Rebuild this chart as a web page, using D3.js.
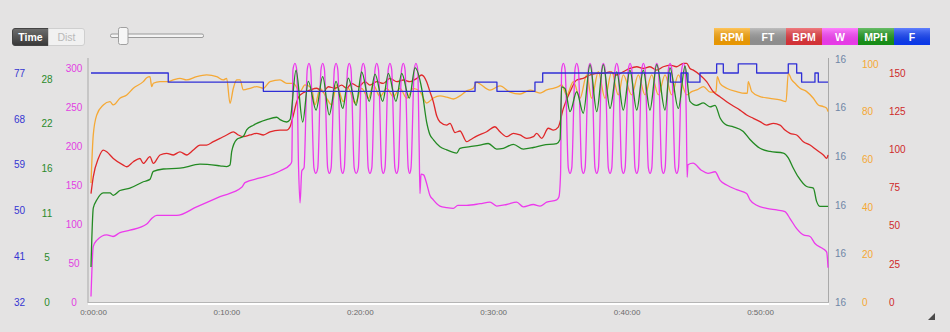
<!DOCTYPE html>
<html>
<head>
<meta charset="utf-8">
<script src="https://cdn.jsdelivr.net/npm/d3@7/dist/d3.min.js"></script>
<style>
 body { margin:0; background:#e4e3e3; }
 svg { display:block; font-family:"Liberation Sans", Arial, sans-serif; }
</style>
</head>
<body>
<div id="chart"></div>
<script>
// ride data, time in minutes
var wattData = [
 [0,7],[0.17,71],[0.43,79],[1.18,86],[1.65,84],[2.17,89],[2.92,92],[4.18,100],[4.55,107],[4.93,111],[6.42,111],[7.92,122],[9.67,135],[11.3,147],[11.54,153],[12.67,159],[14.17,168],[14.92,176],
 [15.05,180],[15.14,298],[15.29,306],[15.42,298],[15.56,172],[15.67,127],[15.8,168],[15.97,172],
 [16.21,298],[16.34,306],[16.47,298],[16.71,172],[16.85,165],[17.0,172],
 [17.24,298],[17.37,306],[17.5,298],[17.74,172],[17.87,165],[18.0,172],
 [18.24,298],[18.37,306],[18.5,298],[18.74,172],[18.87,165],[18.99,172],
 [19.23,298],[19.36,306],[19.49,298],[19.73,172],[19.88,165],[20.04,172],
 [20.28,298],[20.41,306],[20.54,298],[20.78,172],[20.91,165],[21.05,172],
 [21.29,298],[21.42,306],[21.55,298],[21.79,172],[21.91,165],[22.04,172],
 [22.28,298],[22.41,306],[22.54,298],[22.78,172],[22.91,165],[23.04,172],
 [23.28,298],[23.41,306],[23.54,298],[23.78,172],[23.89,165],[23.99,172],
 [24.23,298],[24.36,306],[24.49,298],[24.6,200],[24.66,139],[24.74,164],[24.93,163],
 [25.16,152],[25.4,137],[25.66,131],[26.16,123],[26.66,121],[27.16,120],[27.5,124],[28.16,124],[29.16,126],[29.91,128],[30.41,123],[31.16,125],[31.91,128],[32.41,122],[33.16,125],[33.66,123],[34.16,128],[34.91,131],[35.08,135],
 [35.2,165],[35.28,298],[35.41,306],[35.54,298],[35.78,172],[35.91,165],[36.04,172],
 [36.28,298],[36.41,306],[36.54,298],[36.78,172],[36.91,165],[37.04,172],
 [37.28,298],[37.41,306],[37.54,298],[37.78,172],[37.91,165],[38.04,172],
 [38.28,298],[38.41,306],[38.54,298],[38.78,172],[38.91,165],[39.04,172],
 [39.28,298],[39.41,306],[39.54,298],[39.78,172],[39.91,165],[40.04,172],
 [40.28,298],[40.41,306],[40.54,298],[40.78,172],[40.91,165],[41.04,172],
 [41.28,298],[41.41,306],[41.54,298],[41.78,172],[41.91,165],[42.04,172],
 [42.28,298],[42.41,306],[42.54,298],[42.78,172],[42.91,165],[43.04,172],
 [43.28,298],[43.41,306],[43.54,298],[43.78,172],[43.91,165],[44.04,172],
 [44.28,298],[44.41,306],[44.54,298],[44.63,230],[44.69,160],[44.75,176],
 [45.13,178],[45.75,169],[46.25,165],[46.78,167],[47.16,156],[47.65,150],[48.4,144],[49.15,139],[49.4,131],[49.9,124],[50.65,120],[51.4,118],[52.02,116],[52.4,107],[52.9,94],[53.4,86],[53.9,84],[54.27,75],[54.9,68],[55.15,64],[55.25,44]
];

var mphData = [
 [0,4.4],[0.17,11.8],[0.43,12.8],[0.92,13.7],[1.42,13.7],[1.67,13.4],[2.17,14.0],[2.92,14.3],[3.92,15.1],[4.42,15.4],[4.67,16.4],[5.42,16.7],[6.67,16.8],[8.17,17.3],[9.67,17.1],[10.17,17.0],[10.42,17.2],
 [10.55,18.9],[10.92,20.4],[11.42,20.8],[11.67,21.6],[12.17,22.2],[13.17,22.9],[13.92,23.2],[14.17,22.9],[14.67,22.6],[14.92,22.9],
 [15.37,29.1],[15.87,22.6],[16.29,27.7],[16.87,24.1],[17.37,28.3],[17.86,23.5],[18.37,27.7],[18.87,24.3],[19.29,28.1],[19.87,24.7],[20.29,28.9],[20.86,25.2],[21.29,28.6],[21.87,25.2],[22.29,28.7],[22.86,25.2],[23.29,28.7],[23.86,25.6],[24.29,29.4],
 [24.79,26.8],[25.16,22.6],[25.41,21.0],[25.66,20.4],[26.16,19.5],[26.66,19.1],[27.41,18.7],[27.66,19.3],[28.41,19.5],[29.16,19.7],[29.78,19.9],[30.41,19.2],[30.91,19.3],[31.66,19.8],[32.41,19.2],[33.16,19.4],[33.91,19.7],[34.91,19.9],[35.16,20.4],
 [35.28,27.0],[35.53,26.8],[35.91,23.9],[36.41,26.4],[36.9,23.7],[37.41,29.8],[37.91,23.9],[38.4,29.8],[38.91,24.3],[39.41,28.9],[39.9,24.1],[40.4,29.1],[40.91,24.1],[41.4,29.1],[41.9,24.1],[42.41,29.8],[43.03,24.1],[43.4,29.4],[44.03,24.3],[44.53,29.6],
 [44.9,25.2],[45.4,24.7],[45.9,25.0],[46.4,24.5],[46.78,24.7],[47.16,23.1],[47.65,22.2],[48.15,22.0],[48.9,21.4],[49.4,20.4],[50.15,19.3],[50.9,18.9],[51.9,18.7],[52.27,18.1],[52.65,16.8],[53.02,15.7],[53.65,14.5],[54.15,14.3],[54.4,12.6],[54.65,12.0],[55.25,12.0]
];

var bpmData = [
 [0,71],[0.17,82],[0.55,94],[0.92,99.5],[1.18,98.4],[1.67,94],[2.42,89.7],[2.68,88.6],[3.17,91.9],[3.67,94],[3.92,90.8],[4.42,95.2],[4.67,90.8],[5.17,96.3],[5.67,97.4],[6.17,96.3],[6.67,98.4],[7.17,96.3],[7.67,99.5],[8.17,102.8],[8.67,102.8],[9.17,105],[9.67,107.2],[10.17,109.4],[10.67,111.5],[11.04,109.4],[11.42,108.3],[11.92,109.4],[12.42,110.5],[12.92,109.4],[13.42,111.5],[14.17,112.6],[14.67,112.6],[14.92,114.8],
 [15.17,122.5],[15.42,131.2],[15.67,135.6],[16.42,138.8],[16.92,140],[17.41,137.7],[17.79,141],[18.29,140],[18.79,142.1],[19.17,140],[19.54,143.2],[20.04,141],[20.54,144.3],[20.91,142.1],[21.42,144.3],[21.91,143.2],[22.41,146.5],[22.92,144.3],[23.41,145.4],[23.91,144.3],[24.42,146.5],[24.79,148.7],[25.16,144.3],
 [25.41,137.7],[25.66,131.2],[25.92,121.8],[26.16,117.9],[26.66,115.9],[26.91,117],[27.29,111],[27.66,112],[28.16,105],[28.41,106.1],[28.91,108.7],[29.66,111.5],[30.28,114.8],[30.66,111.5],[31.16,108.3],[31.66,110.5],[32.16,109.4],[32.66,107.2],[33.16,108.3],[33.41,110.5],[33.79,107.2],[34.28,113.8],[34.66,112.6],[35.03,114.6],
 [35.41,126.8],[35.91,137.7],[36.41,145.4],[36.9,146.5],[37.41,148.7],[37.91,149.8],[38.4,149.8],[38.91,150.8],[39.41,148.7],[39.9,150.8],[40.4,153],[40.91,154.1],[41.4,153],[41.9,154.1],[42.41,151.9],[42.9,154.1],[43.4,155.2],[43.9,154.1],[44.4,156.3],[44.65,156.3],
 [44.9,153],[45.15,151.9],[45.65,148.7],[46.15,144.3],[46.65,137.7],[47.15,134.4],[47.65,131.2],[48.03,129],[48.65,125.7],[49.15,122.5],[49.65,120.3],[50.15,118.1],[50.65,115.9],[51.15,117],[51.65,115.9],[52.02,112.6],[52.4,110.5],[52.9,109.4],[53.4,105],[53.9,102.8],[54.4,99.5],[54.9,96.3],[55.15,94.1],[55.25,96.3]
];

var rpmData = [
 [0,50],[0.17,70.2],[0.43,78.6],[0.92,82.8],[1.42,84.2],[1.67,82.8],[2.17,85.6],[2.68,87],[3.17,89.8],[3.92,92.6],[4.18,94.2],[4.42,94.7],[4.55,90.5],[4.67,91.9],[5.17,92.6],[5.79,92.6],[6.17,93.3],[6.67,94],[7.17,93.3],[7.92,94.7],[8.67,95.4],[9.42,94.7],[9.92,93.3],[10.17,94],[10.42,83.5],[10.67,89.8],[10.92,93.3],[11.17,93.3],[11.42,89.1],[11.92,89.8],[12.42,90.5],[12.92,89.8],[13.42,92.6],[14.17,93.3],[14.67,91.9],[15.17,91.9],
 [15.67,88.4],[16.04,91.2],[16.54,89.8],[16.79,82.8],[17.17,89.8],[17.67,85.6],[18.04,82.8],[18.42,91.2],[18.91,84.2],[19.29,89.8],[19.79,83.5],[20.29,89.8],[20.79,85.6],[21.16,91.2],[21.66,86.3],[22.17,89.8],[22.66,86.3],[23.16,89.8],[23.67,85.6],[24.16,89.8],[24.66,88.4],
 [25.16,83.6],[25.66,85.7],[26.16,86.6],[26.66,86.1],[27.16,85.3],[27.66,86.6],[28.16,88.7],[28.66,89.8],[28.91,92.4],[29.16,91.6],[29.91,89],[30.66,90.8],[31.41,88.2],[32.16,87.4],[32.91,89],[33.66,87.8],[34.16,89.1],[34.66,89.8],[35.03,90.5],[35.28,91.2],
 [35.66,87],[36.16,92.6],[36.66,85.6],[37.16,95.4],[37.53,85.6],[38.03,96.8],[38.53,85.6],[39.03,96.8],[39.53,87],[39.9,95.4],[40.53,87],[41.03,95.4],[41.53,87],[42.03,95.4],[42.53,87],[43.03,95.4],[43.53,87],[44.03,95.4],[44.66,87],
 [45.03,88.4],[45.41,89.1],[45.91,90.5],[46.42,88.2],[46.85,88.2],[46.95,94.7],[47.15,91.9],[47.65,89.8],[48.4,88.4],[49.03,87.7],[49.2,87.7],[49.27,92.6],[49.53,88.4],[50.15,86.3],[50.9,85.6],[51.65,84.9],[52.1,84.2],[52.27,96.1],[52.53,93.3],[52.77,91.9],[53.15,89.8],[53.65,88.4],[54.15,85.6],[54.52,82.8],[54.9,82.1],[55.15,81.4],[55.25,80]
];

var tempData = [
 [0,77],[5.79,75.2],[12.92,73.4],[28.79,75.2],[30.43,73.4],[33.28,75.2],[33.86,77],[43.43,75.2],[44.23,77],[44.75,75.2],[45.65,77],[46.9,78.8],[47.4,77],[48.52,78.8],[49.9,77],[52.27,78.8],[52.9,77],[53.27,75.2],[54.27,77],[54.52,75.2],[55.25,75.2]
];

// axis ticks
var wTicks = [0, 50, 100, 150, 200, 250, 300];
var mphTicks = [0, 5.6, 11.2, 16.8, 22.4, 28];
var tempTicks = [32, 41, 50, 59, 68, 77];
var ftTicks = [16.0, 16.1, 16.2, 16.3, 16.4, 16.5];
var rpmTicks = [0, 20, 40, 60, 80, 100];
var bpmTicks = [0, 25, 50, 75, 100, 125, 150];
var timeTicks = [0, 10, 20, 30, 40, 50];

var legendNames = ["RPM", "FT", "BPM", "W", "MPH", "F"];
var legendColors = ["#ffa500", "#9b9b9b", "#e8343a", "#ff3dff", "#169a16", "#0a3cff"];

var w = 950, h = 332;
var svg = d3.select("#chart").append("svg").attr("width", w).attr("height", h);

var defs = svg.append("defs");
var gloss = defs.append("linearGradient").attr("id", "gloss").attr("x1", 0).attr("y1", 0).attr("x2", 0).attr("y2", 1);
gloss.append("stop").attr("offset", "0%").attr("stop-color", "#fff").attr("stop-opacity", 0.35);
gloss.append("stop").attr("offset", "100%").attr("stop-color", "#000").attr("stop-opacity", 0.08);
var dark = defs.append("linearGradient").attr("id", "dark").attr("x1", 0).attr("y1", 0).attr("x2", 0).attr("y2", 1);
dark.append("stop").attr("offset", "0%").attr("stop-color", "#6e6e6e");
dark.append("stop").attr("offset", "100%").attr("stop-color", "#383838");

// scales
var x = d3.scaleLinear().domain([0, 60]).range([91, 91 + 13.34 * 60]);
var yW = d3.scaleLinear().domain([0, 300]).range([302, 68]);
var yMph = d3.scaleLinear().domain([0, 28]).range([302, 79]);
var yTemp = d3.scaleLinear().domain([32, 77]).range([302, 73]);
var yFt = d3.scaleLinear().domain([16, 16.5]).range([302, 59]);
var yRpm = d3.scaleLinear().domain([0, 100]).range([302, 64]);
var yBpm = d3.scaleLinear().domain([0, 150]).range([302, 73]);

// frame
svg.append("line").attr("x1", 88).attr("x2", 88).attr("y1", 58).attr("y2", 303).attr("stroke", "#a9a9a9");
svg.append("line").attr("x1", 828.5).attr("x2", 828.5).attr("y1", 58).attr("y2", 303).attr("stroke", "#a9a9a9");
svg.append("line").attr("x1", 88).attr("x2", 829).attr("y1", 302.5).attr("y2", 302.5).attr("stroke", "#b5b5b5");
svg.append("line").attr("x1", 88).attr("x2", 829).attr("y1", 304).attr("y2", 304).attr("stroke", "#ffffff").attr("stroke-width", 2);

function yAxis(scale, ticks, fmt, xpos, anchor, color) {
  var g = svg.append("g")
    .attr("transform", "translate(" + xpos + ",0)")
    .call(d3.axisLeft(scale).tickValues(ticks).tickSize(0).tickPadding(0).tickFormat(fmt));
  g.select(".domain").remove();
  g.attr("font-family", null).attr("font-size", null);
  g.selectAll("text").attr("x", 0).attr("text-anchor", anchor)
    .attr("fill", color).style("font-size", "10px");
}
var floorFmt = function(d) { return Math.floor(d + 1e-9); };

yAxis(yTemp, tempTicks, floorFmt, 19.5, "middle", "#3535d2");
yAxis(yMph, mphTicks, floorFmt, 47, "middle", "#2b8a2b");
yAxis(yW, wTicks, floorFmt, 74, "middle", "#e23ee2");
yAxis(yFt, ftTicks, floorFmt, 835, "start", "#6f86a6");
yAxis(yRpm, rpmTicks, floorFmt, 862, "start", "#f5a833");
yAxis(yBpm, bpmTicks, floorFmt, 889, "start", "#cf2a2a");

// time axis
var xg = svg.append("g").attr("transform", "translate(0,309)")
  .call(d3.axisBottom(x).tickValues(timeTicks).tickSize(0).tickPadding(0)
    .tickFormat(function(m) {
      var hh = Math.floor(m / 60), mm = m % 60;
      return hh + ":" + (mm < 10 ? "0" : "") + mm + ":00";
    }));
xg.select(".domain").remove();
xg.attr("font-family", null).attr("font-size", null);
xg.selectAll("text").attr("dx", 2).attr("fill", "#6a6a6a").style("font-size", "8px");

// lines
function drawLine(data, yScale, color, curve) {
  var line = d3.line()
    .x(function(d) { return x(d[0]); })
    .y(function(d) { return yScale(d[1]); })
    .curve(curve);
  svg.append("path").datum(data)
    .attr("fill", "none").attr("stroke", color).attr("stroke-width", 1.3)
    .attr("stroke-linejoin", "round").attr("d", line);
}
drawLine(rpmData, yRpm, "#f5a936", d3.curveMonotoneX);
drawLine(bpmData, yBpm, "#e0282a", d3.curveMonotoneX);
drawLine(wattData, yW, "#ec3aec", d3.curveMonotoneX);
drawLine(mphData, yMph, "#238a23", d3.curveMonotoneX);
drawLine(tempData, yTemp, "#2f2fd6", d3.curveStepAfter);

// time / dist toggle
svg.append("path").attr("d", "M15,28.5 H48.5 V45.5 H15 Q12.5,45.5 12.5,43 V31 Q12.5,28.5 15,28.5 Z")
  .attr("fill", "url(#dark)").attr("stroke", "#444");
svg.append("path").attr("d", "M48.5,28.5 H82 Q84.5,28.5 84.5,31 V43 Q84.5,45.5 82,45.5 H48.5 Z")
  .attr("fill", "#f1f1f1").attr("stroke", "#cfcfcf");
svg.append("text").attr("x", 30.5).attr("y", 40.5).attr("text-anchor", "middle")
  .attr("fill", "#fff").attr("font-weight", "bold").style("font-size", "10.5px").text("Time");
svg.append("text").attr("x", 66.5).attr("y", 40.5).attr("text-anchor", "middle")
  .attr("fill", "#b9b9b9").style("font-size", "10.5px").text("Dist");

// slider
svg.append("rect").attr("x", 110.5).attr("y", 34).attr("width", 93).attr("height", 3.5).attr("rx", 1.5)
  .attr("fill", "#f4f4f4").attr("stroke", "#9a9a9a");
svg.append("rect").attr("x", 118.5).attr("y", 27.5).attr("width", 9.5).attr("height", 17).attr("rx", 2)
  .attr("fill", "#f6f6f6").attr("stroke", "#a0a0a0");

// legend
var lg = svg.append("g").selectAll("g").data(legendNames).enter().append("g")
  .attr("transform", function(d, i) { return "translate(" + (714 + i * 36) + ",28)"; });
lg.append("rect").attr("width", 36).attr("height", 17)
  .attr("fill", function(d, i) { return legendColors[i]; });
lg.append("rect").attr("width", 36).attr("height", 17).attr("fill", "url(#gloss)");
lg.append("text").attr("x", 18).attr("y", 12.5).attr("text-anchor", "middle")
  .attr("fill", "#fff").attr("font-weight", "bold").style("font-size", "10.5px")
  .text(function(d) { return d; });

// resize grip
svg.append("path").attr("d", "M935,313 L935,320 L928,320 Z").attr("fill", "#4a4a4a");
</script>
</body>
</html>
